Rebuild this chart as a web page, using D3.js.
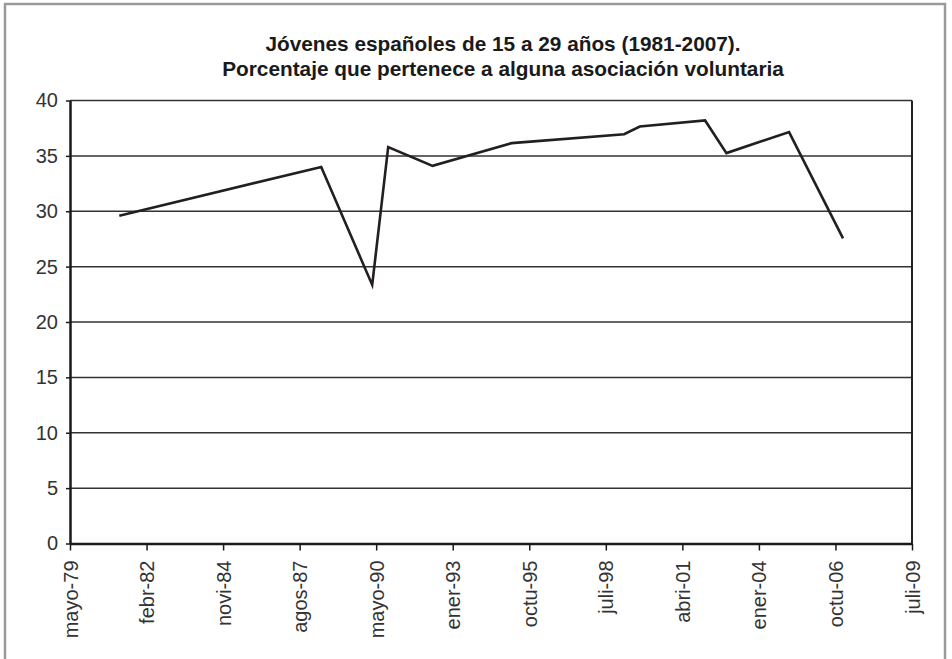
<!DOCTYPE html>
<html>
<head>
<meta charset="utf-8">
<script src="https://cdn.jsdelivr.net/npm/d3@7"></script>
<style>
  html, body { margin: 0; padding: 0; background: #fff; }
  svg { display: block; }
</style>
</head>
<body>
<svg id="chart" width="952" height="659"></svg>
<script>
// ---- data ----
const surveyDates = ["1981-02-24","1988-05-16","1990-03-13","1990-10-08","1992-05-10","1995-03-08",
                     "1999-03-17","1999-10-08","2002-02-07","2002-11-13","2005-02-08","2007-01-14"];
const percentages = [29.6, 34.0, 23.35, 35.8, 34.1, 36.15, 36.95, 37.65, 38.2, 35.25, 37.15, 27.55];
const xTickLabels = ["mayo-79","febr-82","novi-84","agos-87","mayo-90","ener-93",
                     "octu-95","juli-98","abri-01","ener-04","octu-06","juli-09"];
const xAxisStart = "1979-05-22";
const xTickStepDays = 1000;
const yTicks = [0, 5, 10, 15, 20, 25, 30, 35, 40];
const titleLines = ["Jóvenes españoles de 15 a 29 años (1981-2007).",
                    "Porcentaje que pertenece a alguna asociación voluntaria"];

// ---- setup ----
const parse = d3.utcParse("%Y-%m-%d");
const t0 = parse(xAxisStart);
const tickDates = xTickLabels.map((_, i) => d3.utcDay.offset(t0, i * xTickStepDays));
const data = surveyDates.map((d, i) => ({date: parse(d), value: percentages[i]}));

const svg = d3.select("#chart");
const plotLeft = 70, plotRight = 912, plotTop = 100.5, plotBottom = 543.5;

const x = d3.scaleUtc().domain([tickDates[0], tickDates[tickDates.length - 1]]).range([plotLeft, plotRight]);
const y = d3.scaleLinear().domain([0, 40]).range([plotBottom, plotTop]);

// outer frame
svg.append("rect")
  .attr("x", 5).attr("y", 4).attr("width", 940).attr("height", 700)
  .attr("fill", "none").attr("stroke", "#9a9a9a").attr("stroke-width", 2.5);

// title
const title = svg.append("text")
  .attr("text-anchor", "middle")
  .attr("font-family", "'Liberation Sans', Arial, sans-serif")
  .attr("font-weight", "bold")
  .attr("font-size", 20.8)
  .attr("fill", "#1a1a1a");
titleLines.forEach((t, i) => {
  title.append("tspan").attr("x", 503).attr("y", 51 + i * 24.5).text(t);
});

// gridlines
svg.append("g")
  .selectAll("line")
  .data(yTicks.filter(v => v > 0))
  .join("line")
  .attr("x1", plotLeft).attr("x2", plotRight)
  .attr("y1", d => y(d)).attr("y2", d => y(d))
  .attr("stroke", "#333").attr("stroke-width", 1.5);

// right border of plot
svg.append("line")
  .attr("x1", plotRight).attr("x2", plotRight).attr("y1", plotTop).attr("y2", plotBottom)
  .attr("stroke", "#222").attr("stroke-width", 2);

// y axis
const yAxis = svg.append("g")
  .attr("transform", `translate(${plotLeft},0)`)
  .call(d3.axisLeft(y).tickValues(yTicks).tickSize(4).tickSizeOuter(0).tickPadding(8).tickFormat(d3.format("d")));
yAxis.select(".domain").attr("stroke", "#1a1a1a").attr("stroke-width", 2.5);
yAxis.selectAll(".tick line").attr("stroke", "#1a1a1a").attr("stroke-width", 1.5);
yAxis.selectAll(".tick text")
  .attr("font-family", "'Liberation Sans', Arial, sans-serif")
  .attr("font-size", 20).attr("fill", "#333");

// x axis
const xAxis = svg.append("g")
  .attr("transform", `translate(0,${plotBottom})`)
  .call(d3.axisBottom(x).tickValues(tickDates).tickSize(7).tickSizeOuter(0)
        .tickFormat((d, i) => xTickLabels[i]));
xAxis.select(".domain").attr("stroke", "#1a1a1a").attr("stroke-width", 2.5);
xAxis.selectAll(".tick line").attr("stroke", "#1a1a1a").attr("stroke-width", 1.5);
xAxis.selectAll(".tick text")
  .attr("font-family", "'Liberation Sans', Arial, sans-serif")
  .attr("font-size", 20).attr("fill", "#333")
  .attr("text-anchor", "end")
  .attr("transform", "rotate(-90)")
  .attr("x", -17).attr("y", 0).attr("dy", "0.35em");

// line
svg.append("path")
  .datum(data)
  .attr("fill", "none")
  .attr("stroke", "#231f20")
  .attr("stroke-width", 2.6)
  .attr("stroke-linejoin", "miter")
  .attr("d", d3.line().x(d => x(d.date)).y(d => y(d.value)));
</script>
</body>
</html>
